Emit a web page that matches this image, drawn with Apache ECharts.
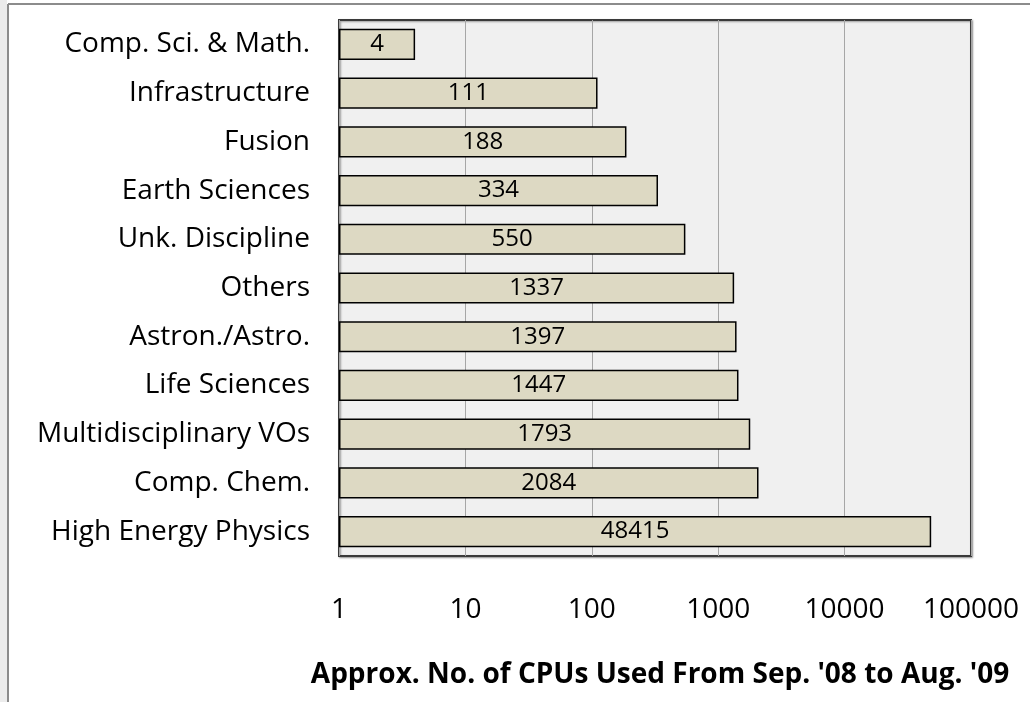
<!DOCTYPE html>
<html>
<head>
<meta charset="utf-8">
<script src="https://cdn.jsdelivr.net/npm/echarts@6/dist/echarts.min.js"></script>
<style>
  html, body { margin: 0; padding: 0; background: #fff; }
  #chart { width: 1030px; height: 702px; }
</style>
</head>
<body>
<div id="chart"></div>
<script>
// categories top to bottom
var disciplines = [
  'Comp. Sci. & Math.', 'Infrastructure', 'Fusion', 'Earth Sciences',
  'Unk. Discipline', 'Others', 'Astron./Astro.', 'Life Sciences',
  'Multidisciplinary VOs', 'Comp. Chem.', 'High Energy Physics'
];
var cpus = [4, 111, 188, 334, 550, 1337, 1397, 1447, 1793, 2084, 48415];
var xTicks = [1, 10, 100, 1000, 10000, 100000];
var xTitle = "Approx. No. of CPUs Used From Sep. '08 to Aug. '09";

var font = '"Open Sans", "Liberation Sans", sans-serif';
var chart = echarts.init(document.getElementById('chart'));

var option = {
  animation: false,
  backgroundColor: '#fff',
  graphic: [
    // outer frame lines
    { type: 'line', shape: { x1: 8, y1: 4, x2: 1030, y2: 4 }, style: { stroke: '#8c8c8c', lineWidth: 2 } },
    { type: 'line', shape: { x1: 8, y1: 4, x2: 8, y2: 702 }, style: { stroke: '#8c8c8c', lineWidth: 2 } },
    { type: 'rect', shape: { x: 0, y: 0, width: 7, height: 702 }, style: { fill: '#ececec' } },
    {
      type: 'text',
      style: {
        text: xTitle, font: 'bold 28px ' + font, fill: '#000',
        x: 660, y: 675, textAlign: 'center', textVerticalAlign: 'middle'
      }
    }
  ],
  grid: {
    left: 339, right: 59, top: 20, bottom: 146,
    show: true,
    backgroundColor: '#f0f0f0',
    borderColor: '#3a3a3a',
    borderWidth: 2,
    shadowColor: 'rgba(0,0,0,0.35)',
    shadowBlur: 2,
    shadowOffsetX: 1,
    shadowOffsetY: 1
  },
  xAxis: {
    type: 'log',
    logBase: 10,
    min: 1,
    max: 100000,
    axisLine: { show: false },
    axisTick: { show: false },
    splitLine: { show: true, lineStyle: { color: '#a6a6a6', width: 1 } },
    axisLabel: {
      margin: 40,
      fontFamily: font,
      fontSize: 28,
      color: '#000',
      formatter: function (v) {
        return xTicks.indexOf(v) >= 0 ? String(v) : '';
      }
    }
  },
  yAxis: {
    type: 'category',
    data: disciplines,
    inverse: true,
    axisLine: { show: false },
    axisTick: { show: false },
    splitLine: { show: false },
    axisLabel: {
      margin: 29,
      fontFamily: font,
      fontSize: 28,
      color: '#000'
    }
  },
  series: [{
    type: 'bar',
    data: cpus,
    barCategoryGap: '36%',
    itemStyle: {
      color: '#ddd9c3',
      borderColor: '#000',
      borderWidth: 1.5
    },
    label: {
      show: true,
      position: 'inside',
      fontFamily: font,
      fontSize: 24,
      color: '#000'
    }
  }]
};

chart.setOption(option);
</script>
</body>
</html>
